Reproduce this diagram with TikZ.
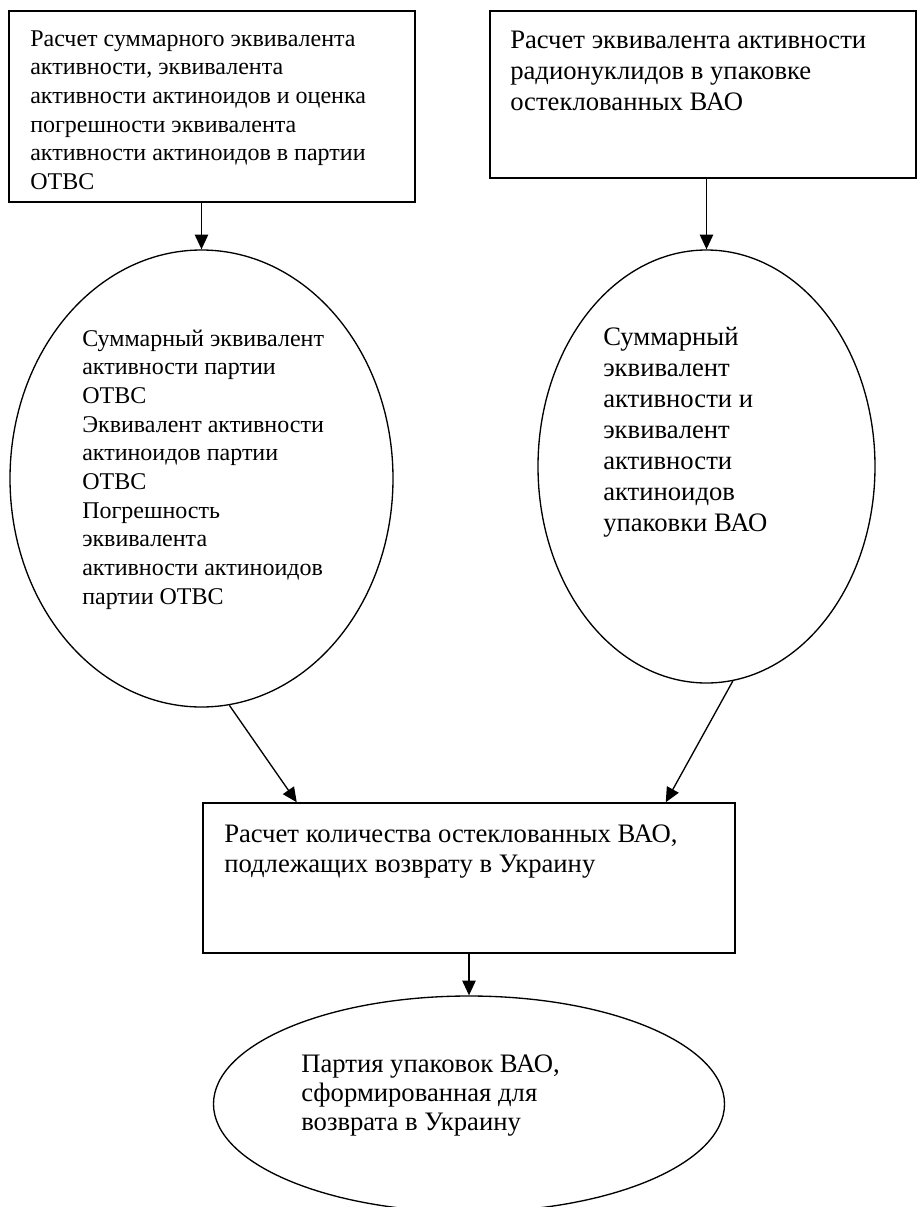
\documentclass[tikz,border=0pt]{standalone}
\usepackage{fontspec}
\setmainfont{Liberation Serif}
\usetikzlibrary{arrows.meta,calc,shapes.geometric}

\tikzset{
  kasten/.style={draw, rectangle, line width=1.1pt, inner sep=0pt},
  oval/.style={draw, ellipse, line width=1pt, inner sep=0pt},
  pfeil/.style={line width=1pt, -{Triangle[length=11pt,width=10pt]}},
  kleintext/.style={anchor=base west, inner sep=0pt, font=\fontsize{18}{21.5}\selectfont},
  grosstext/.style={anchor=base west, inner sep=0pt, font=\fontsize{20}{#1}\selectfont},
  grosstext/.default=23.25
}
\newcommand{\zeilen}[1]{\parbox[t]{16cm}{\raggedright #1}}

\begin{document}
\begin{tikzpicture}[x=0.75pt, y=-0.75pt]
    % Rahmen
    \useasboundingbox (0,0) rectangle (917,1207);

    % Kaesten
    \node[kasten, minimum width=304.5pt, minimum height=143.25pt] (b1) at (212,106.5) {};
    \node[kasten, minimum width=319.5pt, minimum height=125.25pt] (b2) at (703,94.5) {};
    \node[kasten, minimum width=399pt, minimum height=112.5pt] (b3) at (469,878) {};

    % Ellipsen
    \node[oval, minimum width=287.25pt, minimum height=342.75pt] (e1) at (201.5,478.5) {};
    \node[oval, minimum width=252.75pt, minimum height=324.75pt] (e2) at (706.5,466.5) {};
    \node[oval, minimum width=383.25pt, minimum height=162pt] (e3) at (469,1104) {};

    % Beschriftungen
    \node[kleintext] (t1) at (30,46) {\zeilen{Расчет суммарного эквивалента\\активности, эквивалента\\активности актиноидов и оценка\\погрешности эквивалента\\активности актиноидов в партии\\ОТВС}};
    \node[grosstext] (t2) at (510,48) {\zeilen{Расчет эквивалента активности\\радионуклидов в упаковке\\остеклованных ВАО}};
    \node[kleintext] (t3) at (82,346) {\zeilen{Суммарный эквивалент\\активности партии\\ОТВС\\Эквивалент активности\\актиноидов партии\\ОТВС\\Погрешность\\эквивалента\\активности актиноидов\\партии ОТВС}};
    \node[grosstext] (t4) at (603,345) {\zeilen{Суммарный\\эквивалент\\активности и\\эквивалент\\активности\\актиноидов\\упаковки ВАО}};
    \node[grosstext=22.5] (t5) at (224,842) {\zeilen{Расчет количества остеклованных ВАО,\\подлежащих возврату в Украину}};
    \node[grosstext=21.75] (t6) at (301,1072) {\zeilen{Партия упаковок ВАО,\\сформированная для\\возврата в Украину}};

    % Pfeile
    \draw[pfeil] (b1.south -| e1.north) -- (e1.north);
    \draw[pfeil] (b2.south -| e2.north) -- (e2.north);
    \draw[pfeil] (e1.-83.6) -- ($(b3.north west)+(94.5,0)$);
    \draw[pfeil] (e2.-83.7) -- ($(b3.north east)+(-70,0)$);
    \draw[pfeil] (b3.south) -- (e3.north);
\end{tikzpicture}
\end{document}
